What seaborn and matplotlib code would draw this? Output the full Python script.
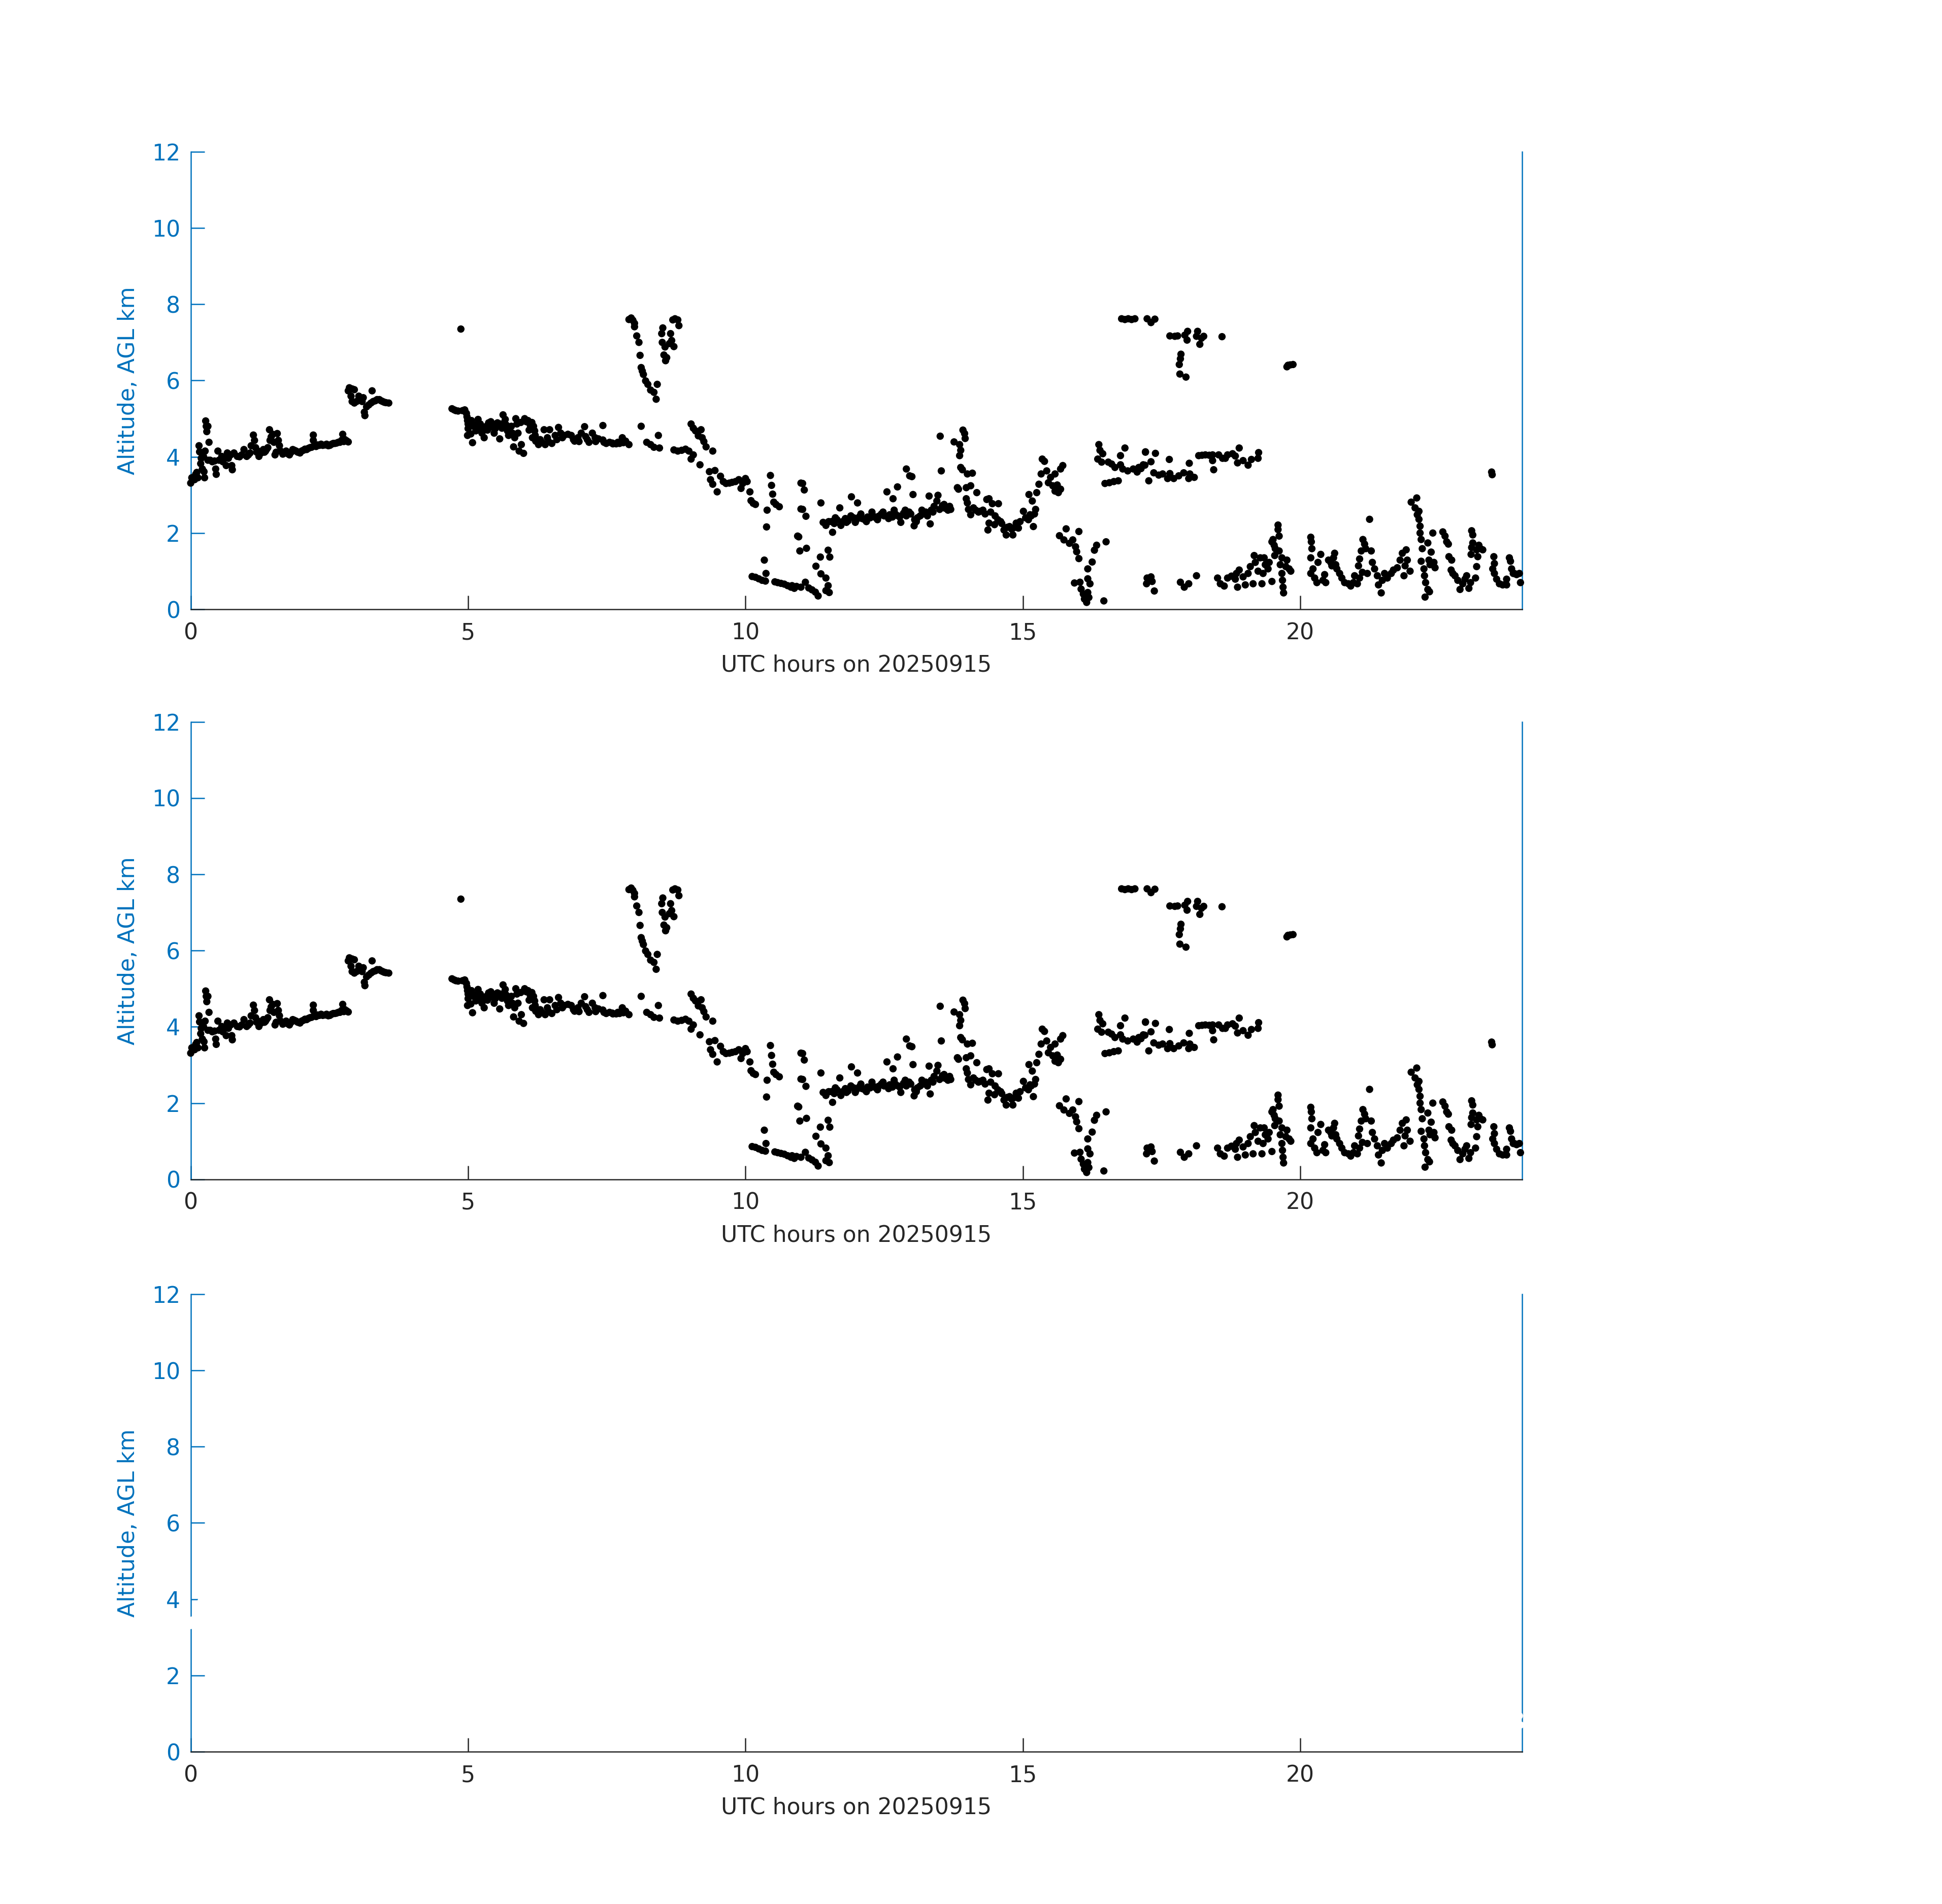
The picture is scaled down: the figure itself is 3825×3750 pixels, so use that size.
import numpy as np
import pandas as pd
import matplotlib
matplotlib.use("Agg")
import matplotlib.pyplot as plt
import seaborn as sns

# ---------------- data ----------------
# (UTC hour, altitude AGL km)
seg_a = [(0.0,3.31),(0.02,3.45),(0.07,3.40),(0.09,3.54),(0.13,3.45),(0.11,3.59),(0.15,4.29),(0.16,4.13),
         (0.18,3.82),(0.19,3.96),(0.21,3.68),(0.24,3.61),(0.25,3.45),(0.23,4.01),(0.26,4.15),(0.27,4.94),
         (0.28,4.80),(0.29,4.66),(0.31,4.80),(0.33,4.38),(0.31,3.91),(0.35,3.91),(0.39,3.87),(0.43,3.89),
         (0.45,3.68),(0.46,3.54),(0.49,4.15),(0.51,3.91),(0.56,4.01),(0.58,3.87),(0.62,3.96),(0.64,3.77),
         (0.66,4.10),(0.68,3.96),(0.72,4.05),(0.74,3.77),(0.75,3.66),(0.78,4.10),(0.84,4.01),(0.88,4.00),
         (0.92,4.05),(0.96,4.19),(1.01,4.01),(1.04,4.05),(1.07,4.10),(1.09,4.29),(1.13,4.57),(1.15,4.43),
         (1.17,4.24),(1.19,4.12),(1.21,4.15),(1.23,4.01),(1.25,4.08),(1.27,4.10),(1.31,4.19),(1.33,4.12),
         (1.35,4.15),(1.37,4.20),(1.39,4.24),(1.42,4.71),(1.43,4.43),(1.45,4.52),(1.48,4.59),(1.50,4.38),
         (1.52,4.05),(1.54,4.12),(1.56,4.61),(1.58,4.43),(1.60,4.29),(1.62,4.15),(1.66,4.07),(1.69,4.10),
         (1.72,4.15),(1.75,4.08),(1.78,4.05),(1.81,4.12),(1.84,4.19),(1.87,4.17),(1.90,4.15),(1.93,4.12),
         (1.97,4.10),(2.00,4.15),(2.03,4.17),(2.06,4.20),(2.09,4.19),(2.12,4.22),(2.15,4.24),(2.18,4.25),
         (2.21,4.57),(2.21,4.43),(2.23,4.29),(2.26,4.27),(2.29,4.31),(2.32,4.30),(2.35,4.33),(2.38,4.30),
         (2.42,4.31),(2.45,4.33),(2.48,4.29),(2.51,4.30),(2.54,4.33),(2.57,4.35),(2.60,4.35),(2.63,4.36),
         (2.66,4.38),(2.69,4.38),(2.72,4.43),(2.74,4.59),(2.76,4.40),(2.78,4.45),(2.81,4.42),(2.84,4.39)]

seg_b = [(2.84,5.73),(2.86,5.81),(2.91,5.78),(2.95,5.76),(2.89,5.59),(2.91,5.45),(2.95,5.41),(2.99,5.45),
         (3.03,5.59),(3.05,5.50),(3.09,5.45),(3.11,5.55),(3.13,5.17),(3.14,5.08),(3.17,5.31),(3.21,5.36),
         (3.27,5.73),(3.25,5.41),(3.29,5.45),(3.33,5.47),(3.36,5.50),(3.40,5.50),(3.43,5.47),(3.46,5.45),
         (3.49,5.43),(3.52,5.42),(3.57,5.41)]

seg_c = [(4.71,5.26),(4.75,5.23),(4.78,5.21),(4.82,5.20),(4.87,7.35),(4.90,5.21),(4.94,5.23),(4.97,5.14),
         (4.98,5.05),(4.99,4.95),(5.00,4.86),(5.00,4.74),(4.99,4.56),(5.08,4.37),(5.06,4.95),(5.10,4.80),
         (5.14,4.68),(5.18,4.98),(5.22,4.86),(5.20,4.74),(5.29,4.50),(5.27,4.74),(5.33,4.80),(5.37,4.89),
         (5.41,4.92),(5.45,4.86),(5.49,4.74),(5.47,4.62),(5.57,4.47),(5.53,4.89),(5.59,4.86),(5.63,5.10),
         (5.67,4.98),(5.69,4.83),(5.73,4.56),(5.78,4.80),(5.82,4.26),(5.84,4.50),(5.86,5.00),(5.88,4.86),
         (5.90,4.62),(5.92,4.15),(5.96,4.32),(6.00,4.09),(6.02,5.00),(6.05,4.92),(6.08,4.95),(6.12,4.83),
         (6.16,4.50),(6.18,4.80),(6.20,4.68),(6.21,4.56),(6.22,4.41),(6.27,4.32),(6.30,4.45),(6.33,4.38),
         (6.37,4.71),(6.39,4.32),(6.43,4.50),(6.45,4.40),(6.47,4.71),(6.51,4.35),(6.57,4.56),(6.60,4.45),
         (6.63,4.77),(6.67,4.62),(6.70,4.50),(6.73,4.56),(6.80,4.59),(6.86,4.56),(6.90,4.45),(6.92,4.41),
         (6.98,4.50),(7.00,4.40),(7.04,4.62),(7.10,4.79),(7.12,4.53),(7.15,4.45),(7.18,4.38),(7.24,4.62),
         (7.29,4.50),(7.30,4.40),(7.35,4.47),(7.43,4.82),(7.43,4.44),(7.45,4.38),(7.49,4.35),(7.55,4.38),
         (7.60,4.36),(7.61,4.34),(7.67,4.34),(7.70,4.38),(7.73,4.35),(7.78,4.50),(7.80,4.37),(7.84,4.41),
         (7.90,4.32),
         (5.05,4.60),(5.15,4.85),(5.25,4.62),(5.35,4.70),(5.43,4.78),(5.51,4.82),(5.61,4.75),(5.71,4.68),
         (5.80,4.62),(5.95,4.90),(6.10,4.70),(6.15,4.90)]

seg_d = [(7.90,7.60),(7.94,7.64),(7.97,7.58),(8.00,7.50),(8.00,7.41),(8.04,7.17),(8.08,7.00),(8.10,6.66),
         (8.12,6.34),(8.14,6.25),(8.16,6.16),(8.20,5.99),(8.24,5.90),(8.29,5.75),(8.35,5.69),(8.39,5.51),
         (8.41,5.90),(8.49,7.23),(8.50,7.00),(8.51,7.38),(8.55,6.88),(8.53,6.67),(8.56,6.52),(8.58,6.60),
         (8.63,6.97),(8.65,7.23),(8.67,7.05),(8.71,6.89),(8.69,7.59),(8.73,7.62),(8.78,7.59),(8.80,7.44),
         (8.12,4.80),(8.22,4.38),(8.29,4.32),(8.35,4.25),(8.45,4.23),(8.43,4.56),(8.71,4.18),(8.78,4.15),
         (8.85,4.17),(8.92,4.20),(8.98,4.15),(9.02,4.86),(9.06,4.75),(9.10,4.68),(9.15,4.55),(9.20,4.71),
         (9.22,4.50),(9.25,4.40),(9.29,4.26),(9.41,4.15),(9.02,3.94),(9.06,4.05),(9.18,3.79),(9.35,3.61),
         (9.37,3.40),(9.41,3.28),(9.49,3.08),(9.45,3.64),(9.55,3.49),(9.60,3.35),(9.65,3.30),(9.71,3.31),
         (9.76,3.33),(9.82,3.35),(9.88,3.40),(9.92,3.17),(9.95,3.30),(10.00,3.43),(10.03,3.35),(10.08,3.08),
         (10.10,2.85),(10.14,2.78),(10.18,2.75),(10.45,3.51),(10.47,3.25),(10.49,3.02),(10.51,2.81),
         (10.55,2.75),(10.61,2.69),(10.39,2.60),(10.38,2.16),(10.34,1.29),(10.37,0.94),
         (10.12,0.86),(10.18,0.84),(10.24,0.80),(10.30,0.76),(10.36,0.74),(10.53,0.72),(10.58,0.70),
         (10.64,0.68),(10.70,0.66),(10.76,0.62),(10.82,0.58),(10.88,0.55),(10.94,1.92),(10.98,1.53),
         (11.00,3.31),(11.00,2.63)]

seg_e = [(10.84,0.62),(10.92,0.60),(11.00,0.58),(11.08,0.71),(11.14,0.56),(11.20,0.51),(11.26,0.45),
         (11.31,0.35),(11.45,0.49),(11.51,0.44),(11.49,0.62),(10.96,1.90),(11.10,1.60),(11.03,3.30),
         (11.06,3.13),(11.03,2.62),(11.09,2.44),(11.27,1.13),(11.35,1.37),(11.36,2.79),(11.36,0.93),
         (11.45,0.82),(11.49,1.55),(11.52,1.37),
         (11.40,2.28),(11.45,2.20),(11.50,2.30),(11.55,2.30),(11.57,2.02),(11.60,2.25),(11.65,2.35),
         (11.70,2.66),(11.75,2.30),(11.80,2.38),(11.85,2.32),(11.91,2.95),(11.95,2.40),(12.00,2.35),
         (12.02,2.79),(12.05,2.42),(12.10,2.38),(12.15,2.35),(12.20,2.42),(12.25,2.40),(12.30,2.45),
         (12.35,2.40),(12.40,2.44),(12.45,2.50),(12.50,2.45),(12.55,3.08),(12.60,2.48),(12.65,2.42),
         (12.66,2.90),(12.70,2.50),(12.74,3.21),(12.75,2.45),(12.80,2.28),(12.85,2.52),(12.90,3.68),
         (12.90,2.45),(12.95,2.55),(12.96,3.50),(13.00,3.48),(13.02,3.01),(13.04,2.19),(13.05,2.35),
         (13.10,2.40),(13.15,2.45),(13.20,2.50),(13.25,2.55),(13.31,2.97),(13.33,2.24),(13.35,2.60),
         (13.40,2.70),(13.45,2.84),(13.47,2.99),(13.51,4.54),(13.53,3.63),(13.55,2.72),(13.60,2.65),
         (13.65,2.60),(13.70,2.62),
         (11.62,2.40),(11.72,2.20),(11.82,2.28),(11.90,2.45),(11.98,2.28),(12.08,2.50),(12.18,2.30),
         (12.28,2.55),(12.38,2.35),(12.48,2.55),(12.58,2.38),(12.68,2.60),(12.78,2.42),(12.88,2.60),
         (12.98,2.50),(13.08,2.30),(13.18,2.60),(13.28,2.45),(13.38,2.55),(13.50,2.62),(13.58,2.75),
         (13.68,2.70),
         (13.76,4.39),(13.86,4.32),(13.88,4.17),(13.86,4.03),(13.92,4.70),(13.95,4.61),(13.96,4.48),
         (13.88,3.72),(13.91,3.66),(13.82,3.19),(13.84,3.15),(14.00,3.55),(14.09,3.57),(13.98,3.19),
         (14.06,3.24),(13.98,2.90),(14.00,2.79),(14.02,2.62),(14.06,2.48),(14.17,3.06),
         (14.11,2.66),(14.15,2.60),(14.20,2.55),(14.23,2.57),(14.28,2.60),(14.32,2.50),(14.35,2.88),
         (14.39,2.90),(14.42,2.55),(14.45,2.77),(14.50,2.45),(14.56,2.77),(14.39,2.26),(14.37,2.08),
         (14.49,2.22),(14.55,2.35),(14.60,2.30),(14.62,2.25),(14.66,2.08),(14.70,1.95),(14.72,2.15),
         (14.76,2.17),(14.80,2.10),(14.82,1.95),(14.86,2.15),(14.88,2.26),(14.92,2.13),(14.95,2.30),
         (15.01,2.57),(15.05,2.40),(15.10,2.35),(15.13,2.48),(15.15,2.45),(15.19,2.17),(15.21,2.50),
         (15.23,2.62),(15.11,3.01),(15.17,2.84),
         (15.25,3.06),(15.29,3.28),(15.33,3.55),(15.35,3.94),(15.39,3.88),(15.43,3.63),(15.50,3.46),
         (15.54,3.24),(15.58,3.10),(15.64,3.06),(15.68,3.15),(15.58,3.55),(15.68,3.68),(15.72,3.77),
         (15.46,3.32),(15.62,3.26),
         (15.66,1.93),(15.74,1.82),(15.78,2.11),(15.84,1.73),(15.90,1.82),(15.95,1.64),(16.01,2.04),
         (15.97,1.51),(16.01,1.33),(15.93,0.69),(16.03,0.71),(16.05,0.53),(16.09,0.40),(16.11,0.27),
         (16.15,0.18),(16.19,0.31),(16.17,0.44),(16.21,0.67),(16.17,0.80),(16.17,1.06),(16.25,1.24),
         (16.29,1.55),(16.33,1.68),(16.50,1.77),(16.46,0.22),
         (16.37,4.32),(16.39,4.17),(16.44,4.08),(16.35,3.94),(16.42,3.86),(16.54,3.86),(16.60,3.81),
         (16.66,3.72),(16.76,3.79),(16.80,3.68),(16.89,3.63),(16.99,3.68),(17.09,3.72),(17.17,3.79),
         (16.84,4.23),(16.76,4.03),(16.48,3.30),(16.56,3.32),(16.64,3.35),(16.72,3.37),(17.21,4.12),
         (16.78,7.62),(16.84,7.60),(16.90,7.62),(16.96,7.60),(17.02,7.62)]

seg_f = [(17.24,7.62),(17.31,7.52),(17.38,7.61),(17.65,7.17),(17.74,7.16),(17.79,7.17),(17.92,7.19),
         (17.97,7.29),(17.96,7.06),(17.85,6.69),(17.84,6.57),(17.82,6.42),(17.83,6.17),(17.94,6.09),
         (18.15,7.29),(18.13,7.16),(18.22,7.11),(18.19,6.95),(18.26,7.16),(18.59,7.15),
         (19.78,6.40),(19.87,6.42),(19.76,6.36),(19.82,6.41),
         (17.06,3.60),(17.13,3.69),(17.20,3.78),(17.21,4.13),(17.39,4.09),(17.31,3.87),(17.27,3.37),
         (17.36,3.58),(17.45,3.52),(17.52,3.55),(17.61,3.43),(17.65,3.56),(17.64,3.93),(17.72,3.43),
         (17.81,3.50),(17.90,3.58),(18.00,3.83),(18.01,3.55),(18.09,3.46),(17.99,3.43),
         (18.17,4.03),(18.23,4.04),(18.29,4.05),(18.36,4.04),(18.42,4.05),(18.42,3.90),(18.44,3.66),
         (18.53,4.05),(18.60,3.96),(18.65,3.96),(18.69,4.05),(18.78,4.08),(18.83,4.02),(18.90,4.23),
         (18.87,3.84),(18.97,3.90),(19.06,3.78),(19.12,3.93),(19.24,3.96),(19.25,4.11),
         (23.45,3.60),(23.46,3.53),
         (17.24,0.82),(17.31,0.85),(17.23,0.67),(17.33,0.73),(17.37,0.48),(17.84,0.71),(17.91,0.58),
         (17.99,0.67),(18.13,0.88),(18.51,0.82),(18.56,0.67),(18.63,0.61),(18.69,0.82),(18.76,0.87),
         (18.83,0.79),(18.85,0.94),(18.87,0.58),(18.90,1.03),(18.97,0.85),(19.01,0.64),(19.06,0.94),
         (19.10,1.12),(19.15,0.67),(19.17,1.41),(19.19,1.23),(19.24,1.00),(19.28,1.35),(19.31,0.67),
         (19.33,0.94),(19.35,1.35),(19.37,1.17),(19.42,1.06),(19.44,1.23),(19.49,0.73),(19.51,1.83),
         (19.49,1.77),(19.53,1.68),(19.55,1.59),(19.60,2.21),(19.60,2.09),(19.62,1.92),(19.62,1.53),
         (19.54,1.41),(19.67,1.35),(19.64,1.17),(19.67,0.94),(19.68,0.76),(19.69,0.58),(19.70,0.43),
         (19.74,1.12),(19.80,1.06),(19.76,1.29),(19.83,1.00),
         (20.19,1.89),(20.20,1.77),(20.21,1.59),(20.19,1.35),(20.19,0.94),(20.23,1.06),(20.26,0.82),
         (20.30,0.70),(20.32,1.23),(20.37,1.44),(20.41,0.76),(20.44,0.91),(20.46,0.70),(20.51,1.29),
         (20.55,1.23),(20.57,1.14),(20.60,1.35),(20.62,1.47),(20.64,1.17),(20.66,1.06),(20.71,0.94),
         (20.75,0.82),(20.80,0.70),(20.87,0.67),(20.91,0.61),(20.96,0.70),(20.98,0.88),(21.03,0.67),
         (21.07,0.82),(21.05,1.14),(21.07,1.32),(21.10,1.53),(21.13,1.83),(21.16,1.71),(21.18,1.59),
         (21.12,0.97),(21.21,0.94),(21.25,2.36),(21.28,1.53),(21.30,1.23),(21.34,1.06),(21.39,0.88),
         (21.41,0.64),(21.46,0.43),(21.48,0.76),(21.52,0.94),(21.57,0.82),(21.64,0.94),(21.68,1.03),
         (21.75,1.09),(21.80,1.29),(21.84,1.47),(21.89,1.14),(21.91,1.56),(21.93,1.29),(21.98,1.00),
         (21.87,0.88),
         (22.00,2.81),(22.07,2.66),(22.10,2.92),(22.11,2.48),(22.14,2.57),(22.14,2.36),(22.16,2.18),
         (22.16,2.00),(22.18,1.83),(22.20,1.59),(22.18,1.26),(22.23,1.06),(22.24,0.88),(22.26,0.70),
         (22.25,0.32),(22.30,0.52),(22.33,0.46),(22.30,1.74),(22.32,1.29),(22.34,1.17),(22.36,1.50),
         (22.39,2.00),(22.41,1.23),(22.43,1.09),
         (22.57,2.03),(22.61,1.92),(22.64,1.77),(22.67,1.71),(22.68,1.38),(22.73,1.29),(22.72,1.03),
         (22.75,0.94),(22.79,0.88),(22.84,0.76),(22.88,0.52),(22.93,0.67),(22.97,0.79),(23.00,0.88),
         (23.04,0.55),(23.07,0.70),
         (23.09,2.06),(23.11,1.95),(23.11,1.74),(23.09,1.62),(23.08,1.44),(23.18,1.56),(23.22,1.68),
         (23.25,1.59),(23.29,1.56),(23.20,1.38),(23.18,1.12),(23.16,0.82),
         (23.49,1.38),(23.50,1.20),(23.47,1.06),(23.50,0.94),(23.54,0.79),(23.59,0.67),(23.65,0.64),
         (23.72,0.64),(23.77,1.35),(23.79,1.26),(23.81,1.06),(23.86,0.94),(23.90,0.91),(23.95,0.94),
         (23.97,0.70),(23.72,0.79),(23.84,0.94)]

x_ticks = [0, 5, 10, 15, 20]
y_ticks = [0, 2, 4, 6, 8, 10, 12]
x_label = "UTC hours on 20250915"
y_label = "Altitude, AGL km"

points = seg_a + seg_b + seg_c + seg_d + seg_e + seg_f
df = pd.DataFrame(points, columns=["t", "z"])

# ---------------- style ----------------
sns.set_style("white")
plt.rcParams['font.family'] = ['DejaVu Sans']

BLUE = "#0072BD"
GRAY = "#262626"

fig = plt.figure(figsize=(12.75, 12.5), dpi=300)
bottoms = [0.680, 0.3806, 0.080]
for i, b in enumerate(bottoms):
    ax = fig.add_axes([0.0982, b, 0.6856, 0.2403])
    color = "black" if i < 2 else "white"
    sns.scatterplot(data=df, x="t", y="z", ax=ax, color=color, s=12,
                    linewidth=0, edgecolor="none", zorder=3, clip_on=False,
                    legend=False)
    ax.set_xlim(0, 24)
    ax.set_ylim(0, 12)
    ax.set_xticks(x_ticks)
    ax.set_yticks(y_ticks)
    ax.spines["top"].set_visible(False)
    for s in ["left", "right"]:
        ax.spines[s].set_color(BLUE)
        ax.spines[s].set_linewidth(0.6)
    ax.spines["bottom"].set_color(GRAY)
    ax.spines["bottom"].set_linewidth(0.6)
    ax.tick_params(axis="y", colors=BLUE, direction="in", length=6.5, width=0.6,
                   labelsize=10.6, pad=5, left=True, right=False)
    ax.tick_params(axis="x", colors=GRAY, direction="in", length=6.5, width=0.6,
                   labelsize=10.6, pad=6, bottom=True, top=False)
    ax.set_xlabel(x_label, color=GRAY, fontsize=10.6, labelpad=5)
    ax.set_ylabel(y_label, color=BLUE, fontsize=10.6, labelpad=6)
    ax.set_facecolor("white")

fig.savefig("out.png", dpi=300, facecolor="white")
